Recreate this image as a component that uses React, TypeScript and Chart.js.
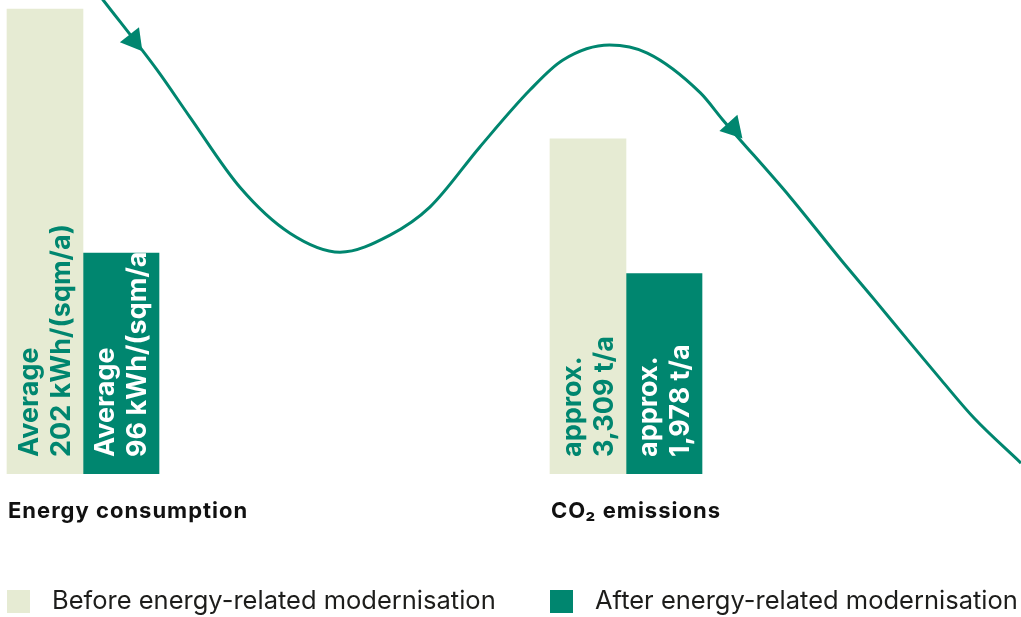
import React, { useEffect, useRef } from 'react';
import { Chart, registerables } from 'chart.js';

Chart.register(...registerables);

// ---- data ----
const categories = ['Energy consumption', 'CO₂ emissions'];
const seriesLabels = ['Before energy-related modernisation', 'After energy-related modernisation'];
const seriesStacks = ['before', 'after'];
const energyValues = [202, 96]; // kWh/(sqm/a): before, after
const co2Values = [3309, 1978]; // t/a: before, after

// decorative curve (percent of width / percent of bar-area height)
const curveX = [9.2, 10.1, 15.4, 18.6, 23.5, 28.4, 33.3, 38.2, 42.1, 47.0, 51.9, 55.1, 59.7, 63.4, 68.6, 70.8, 77.4, 82.4, 85.6, 88.9, 92.2, 95.4, 100];
const curveY = [102.5, 100, 85.2, 75.3, 60.5, 50.8, 46.8, 50.4, 56.3, 69.0, 81.0, 87.3, 90.5, 88.8, 80.4, 74.7, 58.4, 45.1, 36.9, 28.3, 19.8, 11.8, 2.3];
const arrowX = [13.1, 71.8];
const arrowY = [91.5, 73.0];
const arrowRotation = [142, 138];

const valueLabelFormats = [
  (v: number) => ['Average', `${v} kWh/(sqm/a)`],
  (v: number) => ['approx.', `${v.toLocaleString('en-US')} t/a`],
];

const GREEN = '#00866f';
const LIGHT = '#e6ebd3';
const seriesColors = [LIGHT, GREEN];
const labelColors = [GREEN, '#ffffff'];
const FONT = 'Inter, "Noto Sans", sans-serif';

const groupValues = [energyValues, co2Values];
const groupYAxes = ['yE', 'yC'];

const textPlugin = {
  id: 'textPlugin',
  afterDatasetsDraw(chart: any) {
    const { ctx } = chart;
    chart.data.datasets.forEach((ds: any, di: number) => {
      const meta = chart.getDatasetMeta(di);
      meta.data.forEach((el: any, i: number) => {
        const v = ds.data[i].y;
        const lines = valueLabelFormats[ds.group](v);
        const left = el.x - el.width / 2;
        ctx.save();
        ctx.translate(left, el.base);
        ctx.rotate(-Math.PI / 2);
        ctx.font = `700 27px ${FONT}`;
        ctx.fillStyle = ds.labelColor;
        ctx.textAlign = 'left';
        ctx.textBaseline = 'alphabetic';
        lines.forEach((t: string, k: number) => ctx.fillText(t, 17, 31 + 32 * k));
        ctx.restore();
      });
    });
  },
  afterDraw(chart: any) {
    const { ctx, chartArea } = chart;
    const groupLeft = categories.map(() => Infinity);
    chart.data.datasets.forEach((ds: any, di: number) => {
      chart.getDatasetMeta(di).data.forEach((el: any) => {
        groupLeft[ds.group] = Math.min(groupLeft[ds.group], el.x - el.width / 2);
      });
    });
    ctx.save();
    ctx.textAlign = 'left';
    ctx.textBaseline = 'alphabetic';
    ctx.fillStyle = '#111111';
    ctx.font = `700 22px ${FONT}`;
    (ctx as any).letterSpacing = '1px';
    categories.forEach((c, g) => ctx.fillText(c, groupLeft[g] + 1, chartArea.bottom + 44));
    (ctx as any).letterSpacing = '0px';
    seriesLabels.forEach((s, k) => {
      const x = groupLeft[k];
      const y = chartArea.bottom + 116;
      ctx.fillStyle = seriesColors[k];
      ctx.fillRect(x, y, 23, 23);
      ctx.fillStyle = '#1d1d1b';
      ctx.font = `400 25.5px ${FONT}`;
      ctx.fillText(s, x + 45, y + 19);
    });
    ctx.restore();
  },
};

const layer: React.CSSProperties = { position: 'absolute', left: 0, top: 0, width: 1021, height: 617 };

export default function App() {
  const barRef = useRef<HTMLCanvasElement>(null);
  const curveRef = useRef<HTMLCanvasElement>(null);
  useEffect(() => {
    const barDatasets: any[] = [];
    groupValues.forEach((vals, g) => {
      vals.forEach((v, s) => {
        barDatasets.push({
          label: seriesLabels[s],
          stack: seriesStacks[s],
          group: g,
          data: [{ x: g, y: v }],
          xAxisID: 'x',
          yAxisID: groupYAxes[g],
          backgroundColor: seriesColors[s],
          labelColor: labelColors[s],
          borderWidth: 0,
          barThickness: 76,
        });
      });
    });
    const common: any = {
      animation: false,
      responsive: true,
      maintainAspectRatio: false,
      devicePixelRatio: 1,
      events: [],
      layout: { autoPadding: false, padding: { left: 0, right: 0, top: 0, bottom: 143 } },
      plugins: { legend: { display: false }, tooltip: { enabled: false } },
    };
    const curveChart = new Chart(curveRef.current!, {
      type: 'scatter',
      data: {
        datasets: [
          {
            data: curveX.map((x, i) => ({ x, y: curveY[i] })),
            showLine: true,
            borderColor: GREEN,
            borderWidth: 3,
            pointRadius: 0,
            fill: false,
            cubicInterpolationMode: 'monotone',
          },
          {
            data: arrowX.map((x, i) => ({ x, y: arrowY[i] })),
            showLine: false,
            pointStyle: 'triangle',
            pointRotation: arrowRotation,
            pointRadius: 14,
            pointBackgroundColor: GREEN,
            pointBorderWidth: 0,
          },
        ] as any,
      },
      options: {
        ...common,
        scales: {
          x: { type: 'linear', min: 0, max: 100, offset: false, display: false },
          y: { type: 'linear', min: 0, max: 100, display: false },
        },
      },
    });
    const barChart = new Chart(barRef.current!, {
      type: 'bar',
      data: { datasets: barDatasets },
      options: {
        ...common,
        scales: {
          x: { type: 'linear', min: -0.15285, max: 1.72744, offset: false, display: false },
          yE: { type: 'linear', axis: 'y', min: 0, max: 206, display: false },
          yC: { type: 'linear', axis: 'y', min: 0, max: 4680, display: false },
        } as any,
      },
      plugins: [textPlugin],
    });
    return () => {
      barChart.destroy();
      curveChart.destroy();
    };
  }, []);
  return (
    <div style={{ ...layer, background: '#ffffff' }}>
      <div style={layer}>
        <canvas ref={curveRef} />
      </div>
      <div style={layer}>
        <canvas ref={barRef} />
      </div>
    </div>
  );
}
